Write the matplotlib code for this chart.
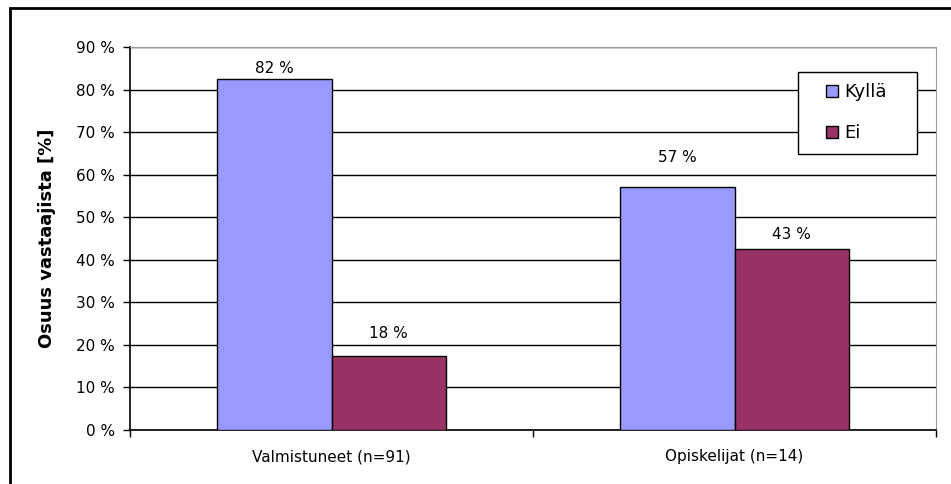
import matplotlib.pyplot as plt
import numpy as np
from matplotlib.patches import Rectangle

categories = ["Valmistuneet (n=91)", "Opiskelijat (n=14)"]
kylla = [82.4, 57.1]
ei = [17.4, 42.6]
kylla_labels = ["82 %", "57 %"]
ei_labels = ["18 %", "43 %"]
series_names = ["Kyllä", "Ei"]
yticks = [0, 10, 20, 30, 40, 50, 60, 70, 80, 90]

plt.rcParams['font.family'] = ['DejaVu Sans']

W, H = 951, 484
fig = plt.figure(figsize=(W/100, H/100), dpi=100)
# plot area in pixels: x 130..936, y 47..430
ax = fig.add_axes([130/W, 1-430/H, (936-130)/W, (430-47)/H])

# outer chart frame, cropped on the right and bottom
fig.patches.append(Rectangle((10/W, -0.1), 1.2, 1 - 8/H + 0.1, transform=fig.transFigure,
                             fill=False, edgecolor="black", linewidth=2))

x = np.arange(len(categories))
w = 0.283
b1 = ax.bar(x - w/2, kylla, w, color="#9999FF", edgecolor="black", linewidth=1, label=series_names[0], zorder=3)
b2 = ax.bar(x + w/2, ei, w, color="#993366", edgecolor="black", linewidth=1, label=series_names[1], zorder=3)

# excel pushed some labels clear of the gridlines, so offsets differ (points)
offs1 = [8, 21]
offs2 = [16, 10]
for bars, labs, offs in ((b1, kylla_labels, offs1), (b2, ei_labels, offs2)):
    for rect, lab, o in zip(bars, labs, offs):
        ax.annotate(lab, (rect.get_x() + rect.get_width()/2, rect.get_height()), xytext=(0, o),
                    textcoords="offset points", ha="center", va="center", fontsize=11)

ax.set_xlim(-0.5, len(categories) - 0.5)
ax.set_ylim(0, 90)
ax.set_yticks(yticks)
ax.set_yticklabels([f"{v} %" for v in yticks], fontsize=11)
ax.set_xticks(x)
ax.set_xticklabels(categories, fontsize=11)
ax.tick_params(axis="x", length=0, pad=14)
ax.set_xticks(np.arange(len(categories) + 1) - 0.5, minor=True)
ax.tick_params(axis="x", which="minor", length=5, width=1)
ax.tick_params(axis="y", length=5, width=1, pad=6)

ax.grid(axis="y", color="black", linewidth=1, zorder=0)
ax.spines["top"].set_color("#999999")
ax.spines["right"].set_color("#999999")
ax.spines["left"].set_linewidth(1.2)
ax.spines["bottom"].set_linewidth(1.2)

ax.set_ylabel("Osuus vastaajista [%]", fontsize=13, fontweight="bold")
ax.yaxis.set_label_coords((56-130)/806, 0.5)

# legend box (pixels 798..917, 72..154) drawn separately
ax.add_patch(Rectangle(((798-130)/806, (430-154)/383), (917-798)/806, (154-72)/383,
                       transform=ax.transAxes, facecolor="white", edgecolor="black",
                       linewidth=1, zorder=4, clip_on=False))
leg = ax.legend(loc="upper left", bbox_to_anchor=((826-130)/806, (430-83)/383),
                fontsize=13, frameon=False,
                handlelength=0.66, handleheight=0.66, handletextpad=0.35,
                labelspacing=1.3, borderpad=0, borderaxespad=0)
leg.set_zorder(5)

fig.savefig("out.png", dpi=100)
